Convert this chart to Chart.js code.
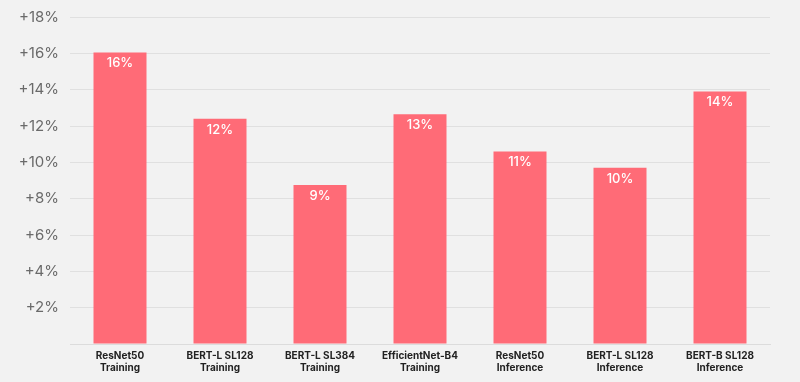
<!DOCTYPE html>
<html>
<head>
<meta charset="utf-8">
<script src="https://cdn.jsdelivr.net/npm/chart.js@4"></script>
<style>
html,body{margin:0;padding:0;background:#f2f2f2;}
#wrap{width:800px;height:382px;position:relative;}
</style>
</head>
<body>
<div id="wrap"><canvas id="c" width="800" height="382"></canvas></div>
<script>
const categories = [
  ["ResNet50","Training"],
  ["BERT-L SL128","Training"],
  ["BERT-L SL384","Training"],
  ["EfficientNet-B4","Training"],
  ["ResNet50","Inference"],
  ["BERT-L SL128","Inference"],
  ["BERT-B SL128","Inference"]
];
const values = [16.05, 12.4, 8.75, 12.65, 10.6, 9.7, 13.9];
const valueLabels = ["16%","12%","9%","13%","11%","10%","14%"];
const yTicks = [0,2,4,6,8,10,12,14,16,18];

const labelPlugin = {
  id: 'barLabels',
  afterDatasetsDraw(chart) {
    const ctx = chart.ctx;
    const meta = chart.getDatasetMeta(0);
    ctx.save();
    ctx.fillStyle = '#ffffff';
    ctx.font = '500 13px "Inter", "Noto Sans", sans-serif';
    ctx.textAlign = 'center';
    ctx.textBaseline = 'middle';
    meta.data.forEach((bar, i) => {
      ctx.fillText(valueLabels[i], bar.x, bar.y + 11);
    });
    ctx.restore();
  }
};

new Chart(document.getElementById('c'), {
  type: 'bar',
  data: {
    labels: categories,
    datasets: [{
      data: values,
      backgroundColor: '#ff6b77',
      categoryPercentage: 1.0,
      barPercentage: 0.53
    }]
  },
  options: {
    responsive: false,
    animation: false,
    layout: { padding: { left: 0, right: 30, top: 17, bottom: 0 } },
    plugins: { legend: { display: false }, tooltip: { enabled: false } },
    scales: {
      x: {
        grid: { display: false, drawTicks: false },
        border: { display: true, color: '#dcdcdc', width: 1 },
        ticks: {
          color: '#222222',
          font: { family: '"Inter", "Noto Sans", sans-serif', size: 10, weight: 'bold' },
          padding: 6,
          maxRotation: 0,
          autoSkip: false
        },
        afterFit(scale) { scale.height = 38; }
      },
      y: {
        min: 0, max: 18,
        afterBuildTicks(scale) { scale.ticks = yTicks.map(v => ({ value: v })); },
        grid: { color: '#e0e0e0', lineWidth: 1, drawTicks: false },
        border: { display: false },
        ticks: {
          color: '#6a6a6a',
          font: { family: '"Inter", "Noto Sans", sans-serif', size: 15 },
          padding: 11,
          callback: v => v === 0 ? '' : '+' + v + '%'
        },
        afterFit(scale) { scale.width = 70; scale.paddingTop = 0; scale.paddingBottom = 0; }
      }
    }
  },
  plugins: [labelPlugin]
});
</script>
</body>
</html>
